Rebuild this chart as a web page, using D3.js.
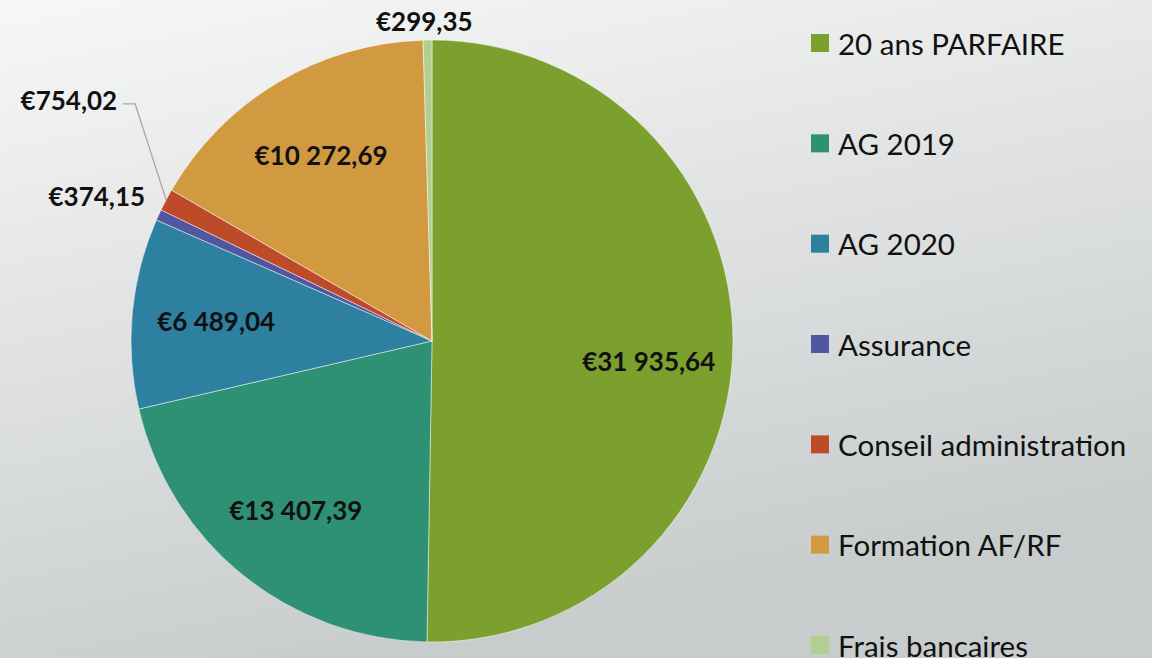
<!DOCTYPE html>
<html>
<head>
<meta charset="utf-8">
<script src="https://cdn.jsdelivr.net/npm/d3@7"></script>
<style>
  html, body { margin: 0; padding: 0; }
  body { width: 1152px; height: 658px; overflow: hidden; }
  svg { display: block; font-family: Lato, "Open Sans", sans-serif; }
</style>
</head>
<body>
<svg id="chart" width="1152" height="658"></svg>
<script>
const categories = ["20 ans PARFAIRE", "AG 2019", "AG 2020", "Assurance",
  "Conseil administration", "Formation AF/RF", "Frais bancaires"];
const values = [31935.64, 13407.39, 6489.04, 374.15, 754.02, 10272.69, 299.35];
const valueLabels = ["€31 935,64", "€13 407,39", "€6 489,04", "€374,15",
  "€754,02", "€10 272,69", "€299,35"];
const colors = ["#7ba02e", "#2e9173", "#2e80a0", "#5156a0", "#bd4b2a", "#d19a40", "#b1cf8e"];

const width = 1152, height = 658;
const cx = 432, cy = 341, radius = 301;

const svg = d3.select("#chart");

// background gradient
const defs = svg.append("defs");
const grad = defs.append("linearGradient")
  .attr("id", "bg")
  .attr("x1", "0").attr("y1", "0")
  .attr("x2", "0.35").attr("y2", "1");
grad.append("stop").attr("offset", "0").attr("stop-color", "#f7f7f7");
grad.append("stop").attr("offset", "1").attr("stop-color", "#c8cccd");
svg.append("rect").attr("width", width).attr("height", height).attr("fill", "url(#bg)");

const data = categories.map((c, i) => ({ name: c, value: values[i], label: valueLabels[i], color: colors[i] }));

const pie = d3.pie().sort(null).value(d => d.value);
const arcs = pie(data);
const arc = d3.arc().innerRadius(0).outerRadius(radius);

const g = svg.append("g").attr("transform", `translate(${cx},${cy})`);

g.selectAll("path.slice")
  .data(arcs)
  .enter()
  .append("path")
  .attr("class", "slice")
  .attr("d", arc)
  .attr("fill", d => d.data.color)
  .attr("stroke", "#ffffff")
  .attr("stroke-opacity", 0.6)
  .attr("stroke-width", 0.8);

// point on the circle at a given angle and distance from centre
const at = (a, r) => [Math.sin(a) * r, -Math.cos(a) * r];
const mid = d => (d.startAngle + d.endAngle) / 2;

const labels = g.append("g")
  .attr("font-weight", "bold")
  .attr("font-size", 26)
  .attr("fill", "#111");

arcs.forEach((d, i) => {
  const share = d.value / d3.sum(values);
  if (share > 0.05) {
    const [x, y] = at(mid(d), radius * 0.72);
    // the big slice label sits a little lower in the original
    const dy = d.data.name === "20 ans PARFAIRE" ? 18 : 0;
    labels.append("text")
      .attr("x", x).attr("y", y + dy)
      .attr("text-anchor", "middle")
      .attr("dominant-baseline", "central")
      .text(d.data.label);
  } else if (d.data.name === "Frais bancaires") {
    const [x, y] = at(mid(d), radius + 19);
    labels.append("text")
      .attr("x", x - 3).attr("y", y)
      .attr("text-anchor", "middle")
      .attr("dominant-baseline", "central")
      .text(d.data.label);
  } else if (d.data.name === "Assurance") {
    const [x, y] = at(mid(d), radius + 15);
    labels.append("text")
      .attr("x", x).attr("y", y - 13)
      .attr("text-anchor", "end")
      .attr("dominant-baseline", "central")
      .text(d.data.label);
  } else {
    // leader line
    const [x0, y0] = at(mid(d), radius);
    const x1 = x0 - 31, y1 = y0 - 96;
    g.append("polyline")
      .attr("points", [[x0, y0], [x1, y1], [x1 - 12, y1]].map(p => p.join(",")).join(" "))
      .attr("fill", "none")
      .attr("stroke", "#a6a6a6")
      .attr("stroke-width", 1.3);
    labels.append("text")
      .attr("x", x1 - 18).attr("y", y1 - 4)
      .attr("text-anchor", "end")
      .attr("dominant-baseline", "central")
      .text(d.data.label);
  }
});

// legend
const legendY = d3.scalePoint().domain(categories).range([43, 645]);
const legend = svg.append("g").attr("font-size", 29.5).attr("fill", "#111");
const item = legend.selectAll("g")
  .data(data)
  .enter()
  .append("g")
  .attr("transform", d => `translate(811,${legendY(d.name)})`);
item.append("rect")
  .attr("x", 0).attr("y", -9)
  .attr("width", 18).attr("height", 18)
  .attr("fill", d => d.color);
item.append("text")
  .attr("x", 27).attr("y", 0)
  .attr("dominant-baseline", "central")
  .text(d => d.name);
</script>
</body>
</html>
